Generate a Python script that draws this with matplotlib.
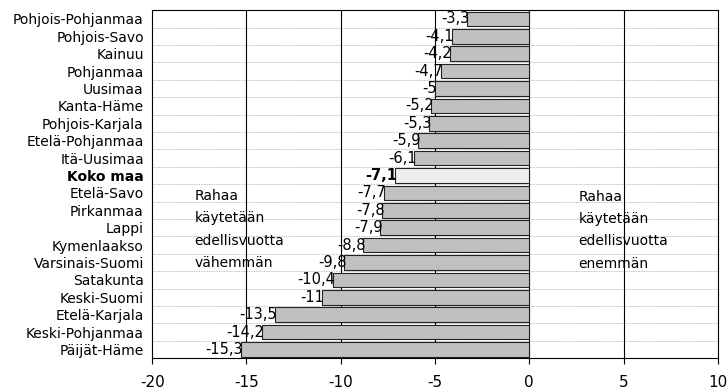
import matplotlib
matplotlib.use('Agg')
from matplotlib import pyplot
import numpy as np

regions = ['Pohjois-Pohjanmaa', 'Pohjois-Savo', 'Kainuu', 'Pohjanmaa', 'Uusimaa',
           'Kanta-Häme', 'Pohjois-Karjala', 'Etelä-Pohjanmaa', 'Itä-Uusimaa',
           'Koko maa', 'Etelä-Savo', 'Pirkanmaa', 'Lappi', 'Kymenlaakso',
           'Varsinais-Suomi', 'Satakunta', 'Keski-Suomi', 'Etelä-Karjala',
           'Keski-Pohjanmaa', 'Päijät-Häme']
values = [-3.3, -4.1, -4.2, -4.7, -5.0, -5.2, -5.3, -5.9, -6.1, -7.1, -7.7,
          -7.8, -7.9, -8.8, -9.8, -10.4, -11.0, -13.5, -14.2, -15.3]
xticks = [-20, -15, -10, -5, 0, 5, 10]

pyplot.rcParams['font.family'] = ['Liberation Sans Narrow', 'DejaVu Sans']
fs = 10

fig = pyplot.figure(figsize=(7.28, 3.91), dpi=100)
ax = fig.add_axes([0.209, 0.084, 0.777, 0.890])

y = np.arange(len(regions))
colors = ['#efefef' if r == 'Koko maa' else '#c0c0c0' for r in regions]
ax.barh(y, values, height=0.84, color=colors, edgecolor='#222222',
        linewidth=0.8, zorder=3)

for yi, v, r in zip(y, values, regions):
    txt = '{:g}'.format(v).replace('.', ',')
    ax.text(v + 0.12, yi, txt, ha='right', va='center', fontsize=fs + 0.5,
            fontweight='bold' if r == 'Koko maa' else 'normal', zorder=4)

# dotted row separators
for b in np.arange(-0.5, len(regions) + 0.5, 1.0):
    ax.axhline(b, color='#aaaaaa', linestyle=(0, (1, 1)), linewidth=0.6, zorder=1)
for xv in [-15, -10, -5, 0, 5]:
    ax.axvline(xv, color='black', linewidth=0.8, zorder=2)

ax.set_xlim(-20, 10)
ax.set_ylim(len(regions) - 0.5, -0.5)
ax.set_xticks(xticks)
ax.set_xticklabels([str(t) for t in xticks], fontsize=fs + 1)
ax.set_yticks(y)
ax.set_yticklabels(regions, fontsize=fs)
for lbl in ax.get_yticklabels():
    if lbl.get_text() == 'Koko maa':
        lbl.set_fontweight('bold')
ax.tick_params(axis='y', length=0, pad=6)
ax.tick_params(axis='x', length=4, direction='out', pad=8)
for s in ax.spines.values():
    s.set_linewidth(0.8)

ax.text(-17.75, 12.1, 'Rahaa\nkäytetään\nedellisvuotta\nvähemmän',
        ha='left', va='center', fontsize=fs, linespacing=1.75, zorder=5)
ax.text(2.6, 12.15, 'Rahaa\nkäytetään\nedellisvuotta\nenemmän',
        ha='left', va='center', fontsize=fs, linespacing=1.75, zorder=5)

pyplot.savefig('out.png', dpi=100)
